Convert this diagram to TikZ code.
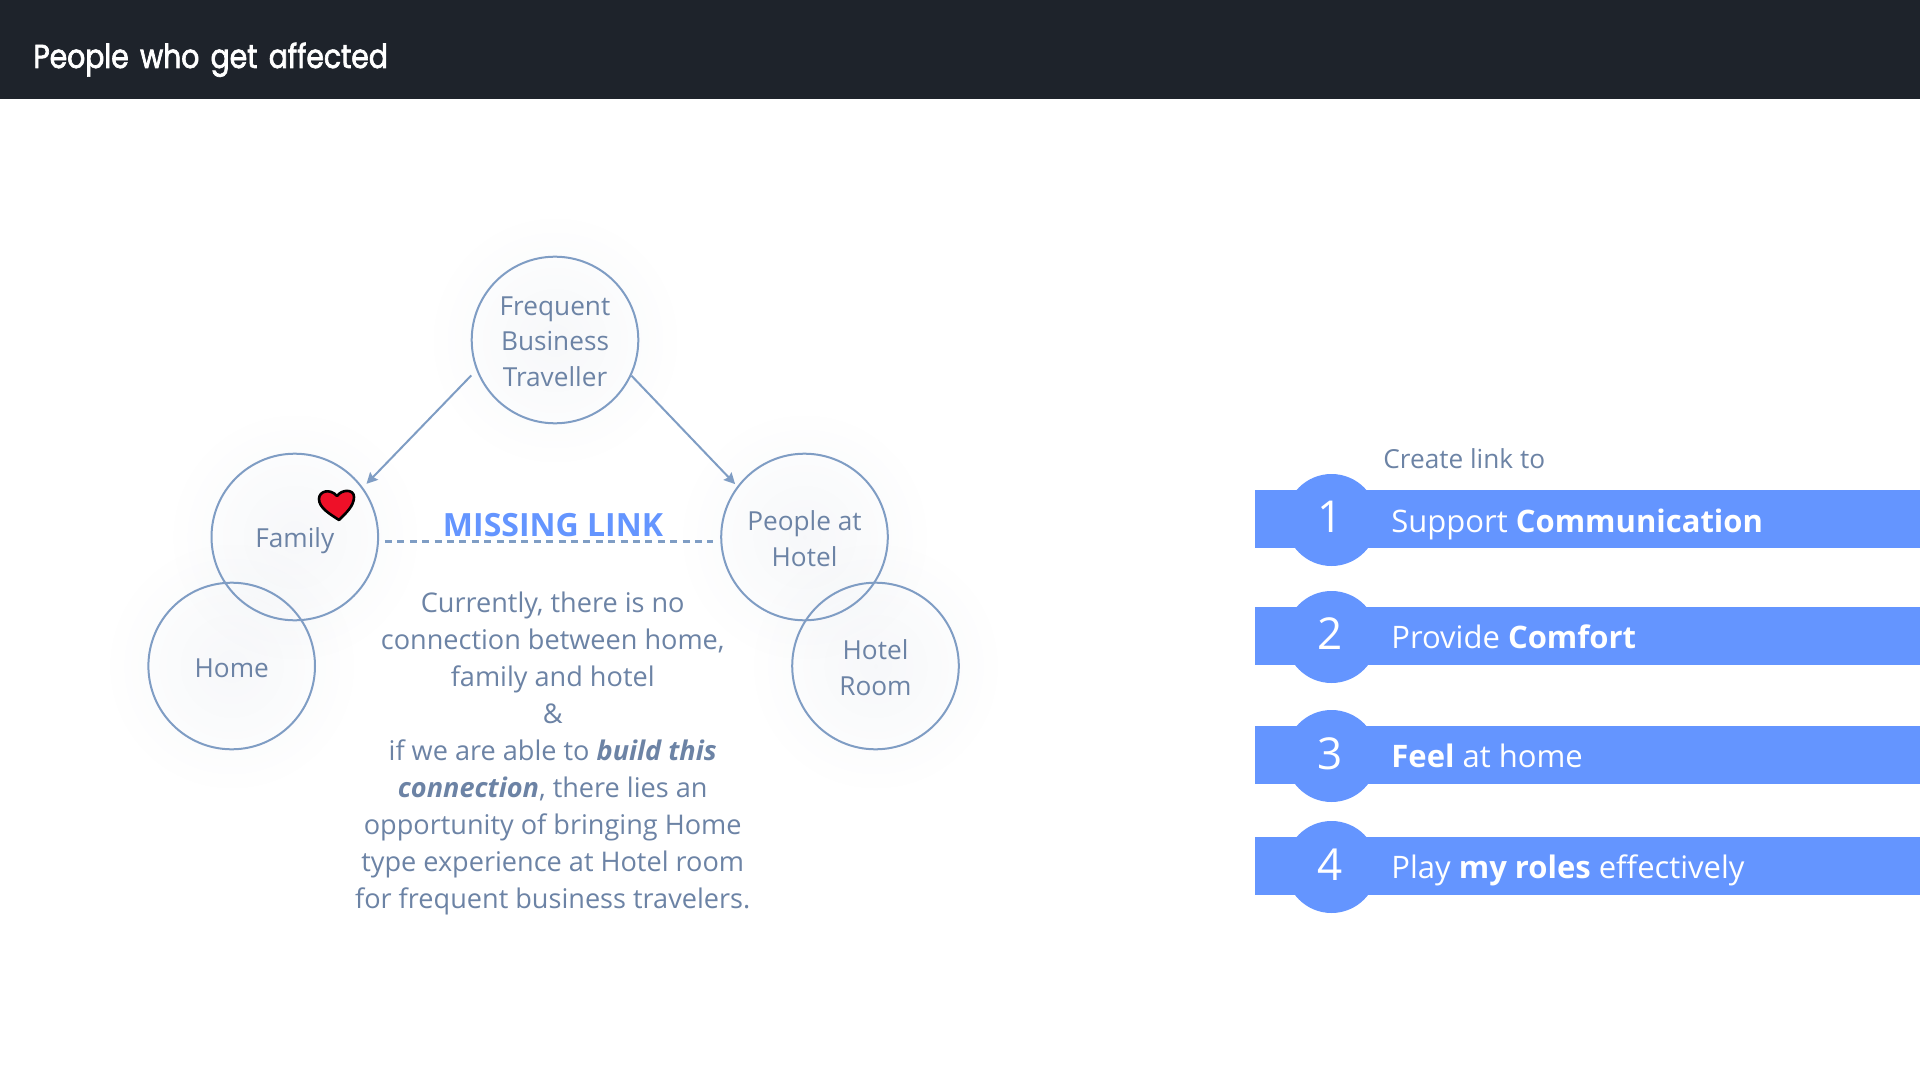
\documentclass[tikz,border=0pt]{standalone}
\usepackage{fontspec}
\setmainfont{Open Sans}
\newfontfamily\ttlfont[FakeStretch=0.85,FakeBold=2,WordSpace=1.5]{Poppins}
\usetikzlibrary{fadings,arrows.meta}
\definecolor{hdr}{HTML}{1E232B}
\definecolor{txt}{HTML}{6C83A5}
\definecolor{ring}{HTML}{7F9DC4}
\definecolor{barblue}{HTML}{6495FF}
\definecolor{glowc}{HTML}{8A9BB8}
\definecolor{heartred}{HTML}{EE1028}
\tikzfading[name=glowfade, inner color=transparent!93, outer color=transparent!100]
\tikzset{
  x=0.5pt,y=-0.5pt,
  ringnode/.style={circle,draw=ring,line width=1pt,minimum size=83.3pt,inner sep=0pt,text=txt,align=center,
    font=\fontsize{13.1}{18}\selectfont},
  arr/.style={draw=ring,line width=1pt,-{Stealth[length=5.5pt,width=5.5pt,inset=0.8pt]}},
  linkline/.style={draw=ring,line width=1.2pt,dash pattern=on 3.5pt off 2.7pt},
  barstrip/.style={fill=barblue,draw=none},
  numdisc/.style={circle,fill=barblue,draw=none,minimum size=46pt,inner sep=0pt},
  numlabel/.style={text=white,anchor=base,inner sep=0pt,font=\fontsize{22}{26}\selectfont},
  barlabel/.style={text=white,anchor=base west,inner sep=0pt,font=\fontsize{15.5}{20}\selectfont},
}
\newcommand{\glowat}[2]{\shade[inner color=glowc,outer color=glowc,path fading=glowfade] (#1,#2) circle (125);}
\begin{document}
\begin{tikzpicture}
\useasboundingbox (0,0) rectangle (1920,1080);
\fill[white] (0,0) rectangle (1920,1080);
\fill[hdr] (0,0) rectangle (1920,99);
\node[anchor=base west,inner sep=0pt,text=white,font=\ttlfont\fontsize{16.6}{20}\selectfont] (title) at (33,68) {People who get affected};

\glowat{555}{340}\glowat{294.8}{537}\glowat{231.7}{666}\glowat{804.5}{537}\glowat{875.5}{666}

\node[ringnode] (fbt) at (555,340) {\rule{0pt}{11pt}Frequent\\[-0.2pt]Business\\[-0.2pt]Traveller};
\node[ringnode] (family) at (294.8,537) {\raisebox{-5.2pt}[0pt][0pt]{Family}};
\node[ringnode] (home) at (231.7,666) {\raisebox{-5.5pt}[0pt][0pt]{Home}};
\node[ringnode] (people) at (804.5,537) {\rule{0pt}{11.2pt}People at\\Hotel};
\node[ringnode] (room) at (875.5,666) {\rule{0pt}{11.2pt}Hotel\\Room};

\draw[arr,shorten <=3.6pt,shorten >=2.5pt] (fbt.201) -- (family.36);
\draw[arr,shorten >=1.5pt] (fbt.335) -- (people.143);
\draw[linkline,shorten <=3pt,shorten >=3.5pt] (family.-3) -- (people.183);

\node[anchor=base,inner sep=0pt,text=barblue,font=\bfseries\fontsize{16}{20}\selectfont] (missing) at (553,536.5) {MISSING LINK};

\node[align=center,inner sep=0pt,text=txt,anchor=center,font=\fontsize{13.55}{18.5}\selectfont] (body) at (552.7,753.2)
{Currently, there is no\\connection between home,\\family and hotel\\\&\\if we are able to \textbf{\textit{build this}}\\\textbf{\textit{connection}}, there lies an\\opportunity of bringing Home\\type experience at Hotel room\\for frequent business travelers.};

\node[anchor=base west,inner sep=0pt,text=txt,font=\fontsize{13.1}{18}\selectfont] (create) at (1383,468) {Create link to};

\fill[barstrip] (1255,490) rectangle (1920,548);
\fill[barstrip] (1255,607) rectangle (1920,665);
\fill[barstrip] (1255,726) rectangle (1920,784);
\fill[barstrip] (1255,837) rectangle (1920,895);
\node[numdisc] (d1) at (1331.5,520) {};
\node[numdisc] (d2) at (1331.5,637) {};
\node[numdisc] (d3) at (1331.5,756) {};
\node[numdisc] (d4) at (1331.5,867) {};
\node[numlabel] (n1) at (1330,532) {1};
\node[numlabel] (n2) at (1330,649) {2};
\node[numlabel] (n3) at (1330,769) {3};
\node[numlabel] (n4) at (1330,880) {4};
\node[barlabel] (t1) at (1391,532) {Support \textbf{Communication}};
\node[barlabel] (t2) at (1391,648) {Provide \textbf{Comfort}};
\node[barlabel] (t3) at (1391,767) {\textbf{Feel} at home};
\node[barlabel] (t4) at (1391,878) {Play \textbf{my roles} effectively};

% heart
\fill[heartred,draw=black,line width=1.3pt,line join=round]
 (339,520) .. controls (330,514) and (319,508) .. (319,499)
 .. controls (319,491) and (330,488) .. (337,496)
 .. controls (342,489) and (354,489) .. (354,497)
 .. controls (354,506) and (346,513) .. (339,520) -- cycle;
\end{tikzpicture}
\end{document}
